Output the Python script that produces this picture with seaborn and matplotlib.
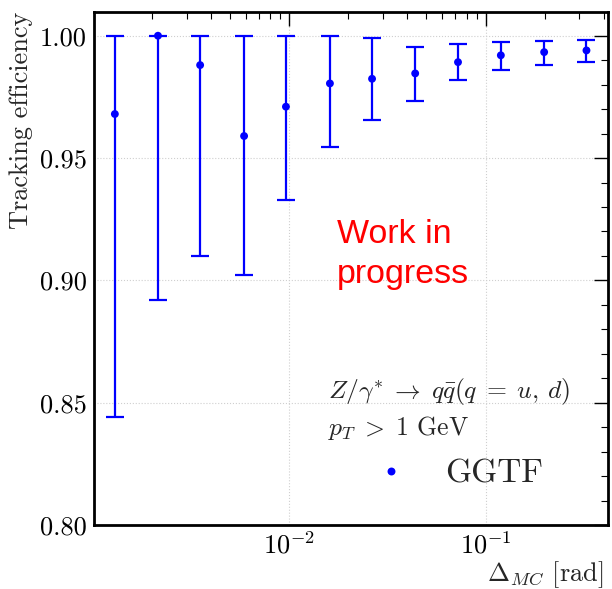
import numpy as np
import pandas as pd
import matplotlib
matplotlib.use("Agg")
import matplotlib.pyplot as plt
import seaborn as sns
from matplotlib.ticker import MultipleLocator, FormatStrFormatter, LogLocator
from matplotlib.lines import Line2D

# ---- data ----
delta_mc = [0.00129, 0.00214, 0.00351, 0.00588, 0.00961, 0.0161,
            0.0264, 0.0438, 0.0724, 0.1197, 0.199, 0.327]
efficiency = [0.968, 1.000, 0.988, 0.959, 0.971, 0.9805,
              0.9824, 0.9846, 0.9892, 0.9920, 0.9933, 0.9940]
err_low_edge = [0.844, 0.892, 0.910, 0.902, 0.933, 0.9545,
                0.9656, 0.9734, 0.9818, 0.9861, 0.9881, 0.9892]
err_high_edge = [1.000, 1.000, 1.000, 1.000, 1.000, 1.000,
                 0.9989, 0.9953, 0.9967, 0.9975, 0.9980, 0.9984]
series_label = "GGTF"
y_ticks = [0.80, 0.85, 0.90, 0.95, 1.00]

df = pd.DataFrame({"delta": delta_mc, "eff": efficiency,
                   "lo": err_low_edge, "hi": err_high_edge})

sns.set_style("white")
plt.rcParams["font.family"] = ["serif"]
plt.rcParams["font.serif"] = ["cmr10", "DejaVu Serif"]
plt.rcParams["mathtext.fontset"] = "cm"
plt.rcParams["axes.unicode_minus"] = False
plt.rcParams["axes.formatter.use_mathtext"] = True

fig = plt.figure(figsize=(6.12, 5.89), dpi=100)
ax = fig.add_axes([94/612, 1-525/589, (608-94)/612, (525-12)/589])

color = "#0000ff"
yerr = np.vstack([df["eff"] - df["lo"], df["hi"] - df["eff"]])
ax.errorbar(df["delta"], df["eff"], yerr=yerr, fmt="none", ecolor=color,
            elinewidth=1.6, capsize=6.5, capthick=1.6, zorder=2)
sns.scatterplot(data=df, x="delta", y="eff", ax=ax, color=color, s=32,
                edgecolor="none", linewidth=0, zorder=3, legend=False)

ax.set_xscale("log")
ax.set_xlim(1.01e-3, 0.421)
ax.set_ylim(0.80, 1.0097)
ax.set_yticks(y_ticks)
ax.yaxis.set_major_formatter(FormatStrFormatter("%.2f"))
ax.yaxis.set_minor_locator(MultipleLocator(0.01))
ax.xaxis.set_minor_locator(LogLocator(base=10, subs=np.arange(2, 10)))

ax.grid(True, which="major", linestyle=":", color="#cfcfcf", linewidth=0.8)
ax.set_axisbelow(True)

for sp in ax.spines.values():
    sp.set_linewidth(2.0)
    sp.set_color("black")

ax.tick_params(which="both", direction="in", top=True, right=True,
               colors="black")
ax.tick_params(which="major", length=10, width=1.0, labelsize=19)
ax.tick_params(which="minor", length=5, width=0.8)
ax.tick_params(axis="y", which="major", pad=5)
ax.tick_params(axis="x", which="major", pad=5)

ax.set_xlabel(r"$\Delta_{MC}$ [rad]", fontsize=19, loc="right")
ax.xaxis.set_label_coords(1 - 5/514, -0.066)
ax.set_ylabel("Tracking efficiency", fontsize=19, loc="top", labelpad=5)

ax.text(0.472, 0.549, "Work in", transform=ax.transAxes, color="red",
        fontsize=24.5, family=["Liberation Sans"], va="baseline", ha="left")
ax.text(0.472, 0.4712, "progress", transform=ax.transAxes, color="red",
        fontsize=24.5, family=["Liberation Sans"], va="baseline", ha="left")

ax.text(0.4558, 0.247,
        r"$Z/\gamma^{*} \;\rightarrow\; q\bar{q}(q \;=\; u,\, d)$",
        transform=ax.transAxes, fontsize=18.5, va="baseline", ha="left")
ax.text(0.4558, 0.1754, r"$p_T \;>\; 1$ GeV",
        transform=ax.transAxes, fontsize=18.5, va="baseline", ha="left")

handle = Line2D([], [], linestyle="none", marker="o", markersize=5.7,
                markerfacecolor=color, markeredgecolor="none")
ax.legend([handle], [series_label], loc="center left",
          bbox_to_anchor=(0.5125, 0.0994), frameon=False, fontsize=24,
          handlelength=2.0, handletextpad=0.63, borderpad=0,
          borderaxespad=0)

fig.savefig("out.png", dpi=100)
